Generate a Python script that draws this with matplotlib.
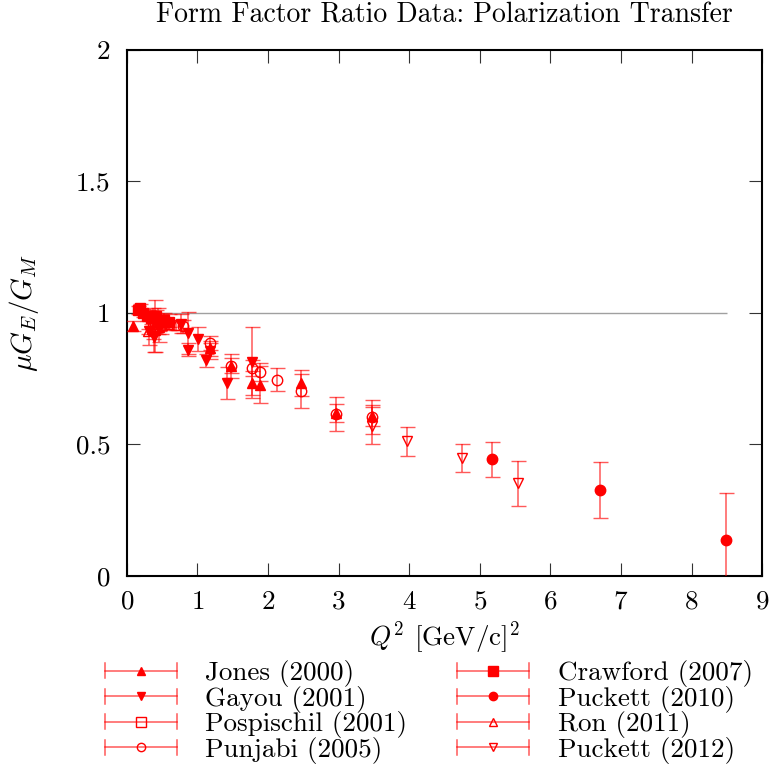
import numpy as np
import matplotlib
matplotlib.use("Agg")
import matplotlib.pyplot as plt
from matplotlib.lines import Line2D
from matplotlib.legend_handler import HandlerBase
from matplotlib.container import ErrorbarContainer

plt.rcParams['font.family'] = ['cmr10', 'DejaVu Serif']
plt.rcParams['mathtext.fontset'] = 'cm'
plt.rcParams['axes.formatter.use_mathtext'] = True

# Q^2 [GeV/c]^2, mu*GE/GM, error
jones_q2 = [0.08, 1.18, 1.48, 1.77, 1.88, 2.47, 2.97, 3.47]
jones_r = [0.95, 0.865, 0.80, 0.733, 0.727, 0.733, 0.62, 0.61]
jones_err = [0.02, 0.03, 0.03, 0.045, 0.07, 0.05, 0.035, 0.04]

gayou_q2 = [0.32, 0.38, 0.45, 0.77, 0.87, 0.86, 1.01, 1.12, 1.18, 1.42, 1.77]
gayou_r = [0.93, 0.91, 0.94, 0.96, 0.925, 0.86, 0.90, 0.82, 0.855, 0.733, 0.813]
gayou_err = [0.05, 0.06, 0.05, 0.035, 0.08, 0.025, 0.045, 0.025, 0.03, 0.06, 0.135]

posp_q2 = [0.37, 0.40, 0.44]
posp_r = [0.96, 0.95, 0.97]
posp_err = [0.06, 0.10, 0.05]

punj_q2 = [0.49, 0.79, 1.18, 1.48, 1.77, 1.88, 2.13, 2.47, 2.97, 3.47]
punj_r = [0.95, 0.95, 0.886, 0.798, 0.79, 0.776, 0.747, 0.703, 0.615, 0.606]
punj_err = [0.03, 0.025, 0.025, 0.045, 0.03, 0.035, 0.045, 0.065, 0.065, 0.065]

craw_q2 = [0.16, 0.19, 0.23, 0.28, 0.34, 0.41, 0.47, 0.53, 0.59]
craw_r = [1.01, 1.02, 1.00, 0.99, 0.98, 0.99, 0.97, 0.975, 0.965]
craw_err = [0.015, 0.015, 0.015, 0.02, 0.02, 0.02, 0.025, 0.025, 0.03]

puck10_q2 = [5.17, 6.70, 8.49]
puck10_r = [0.443, 0.327, 0.138]
puck10_err = [0.066, 0.105, 0.179]

ron_q2 = [0.30, 0.35, 0.40, 0.45, 0.50, 0.60, 0.70]
ron_r = [0.93, 0.94, 0.935, 0.945, 0.955, 0.96, 0.955]
ron_err = [0.01, 0.012, 0.012, 0.013, 0.013, 0.015, 0.02]

puck12_q2 = [3.48, 3.97, 4.75, 5.54]
puck12_r = [0.572, 0.513, 0.449, 0.353]
puck12_err = [0.072, 0.055, 0.054, 0.086]

RED = '#ff0000'
ERR_ALPHA = 0.65


class GnuplotErrHandler(HandlerBase):
    # horizontal bar with end caps and the marker in the middle, like gnuplot
    def create_artists(self, legend, orig_handle, xdescent, ydescent,
                       width, height, fontsize, trans):
        src = orig_handle.lines[0]
        y = height / 2 - ydescent
        x0, x1 = -xdescent, width - xdescent
        c = 7.5 * 72 / 100  # half cap height in points
        bar = Line2D([x0, x1], [y, y], color=RED, alpha=ERR_ALPHA, lw=1.1)
        caps = Line2D([x0, x0, np.nan, x1, x1], [y - c, y + c, np.nan, y - c, y + c],
                      color=RED, alpha=ERR_ALPHA, lw=1.1)
        scale = 1.0 if src.get_marker() == 's' else 0.8
        mark = Line2D([(x0 + x1) / 2], [y], marker=src.get_marker(),
                      ms=src.get_markersize() * scale, mfc=src.get_markerfacecolor(),
                      mec=RED, mew=1.0, linestyle='none')
        for a in (bar, caps, mark):
            a.set_transform(trans)
        return [bar, caps, mark]


fig = plt.figure(figsize=(7.69, 7.69), dpi=100)
ax = fig.add_axes([0.165, 0.251, 0.826, 0.684])

ax.hlines(1.0, 0, 8.5, color='#a0a0a0', lw=1.0, zorder=1)

sets = [
    (jones_q2, jones_r, jones_err, '^', True, 7.5, 'Jones (2000)'),
    (gayou_q2, gayou_r, gayou_err, 'v', True, 7.5, 'Gayou (2001)'),
    (posp_q2, posp_r, posp_err, 's', False, 6.5, 'Pospischil (2001)'),
    (punj_q2, punj_r, punj_err, 'o', False, 7.5, 'Punjabi (2005)'),
    (craw_q2, craw_r, craw_err, 's', True, 6.5, 'Crawford (2007)'),
    (puck10_q2, puck10_r, puck10_err, 'o', True, 7.5, 'Puckett (2010)'),
    (ron_q2, ron_r, ron_err, '^', False, 6.5, 'Ron (2011)'),
    (puck12_q2, puck12_r, puck12_err, 'v', False, 6.5, 'Puckett (2012)'),
]

handles = []
labels = []
for q2, r, err, mk, filled, ms, lab in sets:
    cont = ax.errorbar(q2, r, yerr=err, fmt=mk, color=RED, ms=ms,
                       mfc=RED if filled else 'none', mec=RED, mew=1.0,
                       ecolor=RED, elinewidth=1.1, capsize=5.4, capthick=1.1,
                       zorder=3)
    for art in cont[1] + cont[2]:
        art.set_alpha(ERR_ALPHA)
    handles.append(cont)
    labels.append(lab)

ax.set_xlim(0, 9)
ax.set_ylim(0, 2)
ax.set_xticks(range(0, 10))
ax.set_yticks([0, 0.5, 1, 1.5, 2])
ax.set_yticklabels(['0', '0.5', '1', '1.5', '2'])
ax.tick_params(direction='in', length=9.5, width=0.8, top=True, right=True,
               labelsize=19.5, color='#333333')
ax.tick_params(axis='x', pad=10)
ax.tick_params(axis='y', pad=12)
for sp in ax.spines.values():
    sp.set_linewidth(1.5)

ax.set_title('Form Factor Ratio Data: Polarization Transfer', fontsize=20, pad=20)
ax.set_xlabel(r'$Q^2$ [GeV/c]$^2$', fontsize=19.5, labelpad=4)
ax.set_ylabel(r'$\mu G_E/G_M$', fontsize=21, labelpad=25)

fig.legend(handles, labels, handler_map={ErrorbarContainer: GnuplotErrHandler()},
           loc='upper left', bbox_to_anchor=(105 / 769, 1 - 660 / 769),
           ncol=2, frameon=False, fontsize=19.5, handlelength=2.65,
           handletextpad=1.05, columnspacing=1.85, labelspacing=-0.05,
           borderpad=0, borderaxespad=0)

fig.savefig('out.png', dpi=100)
